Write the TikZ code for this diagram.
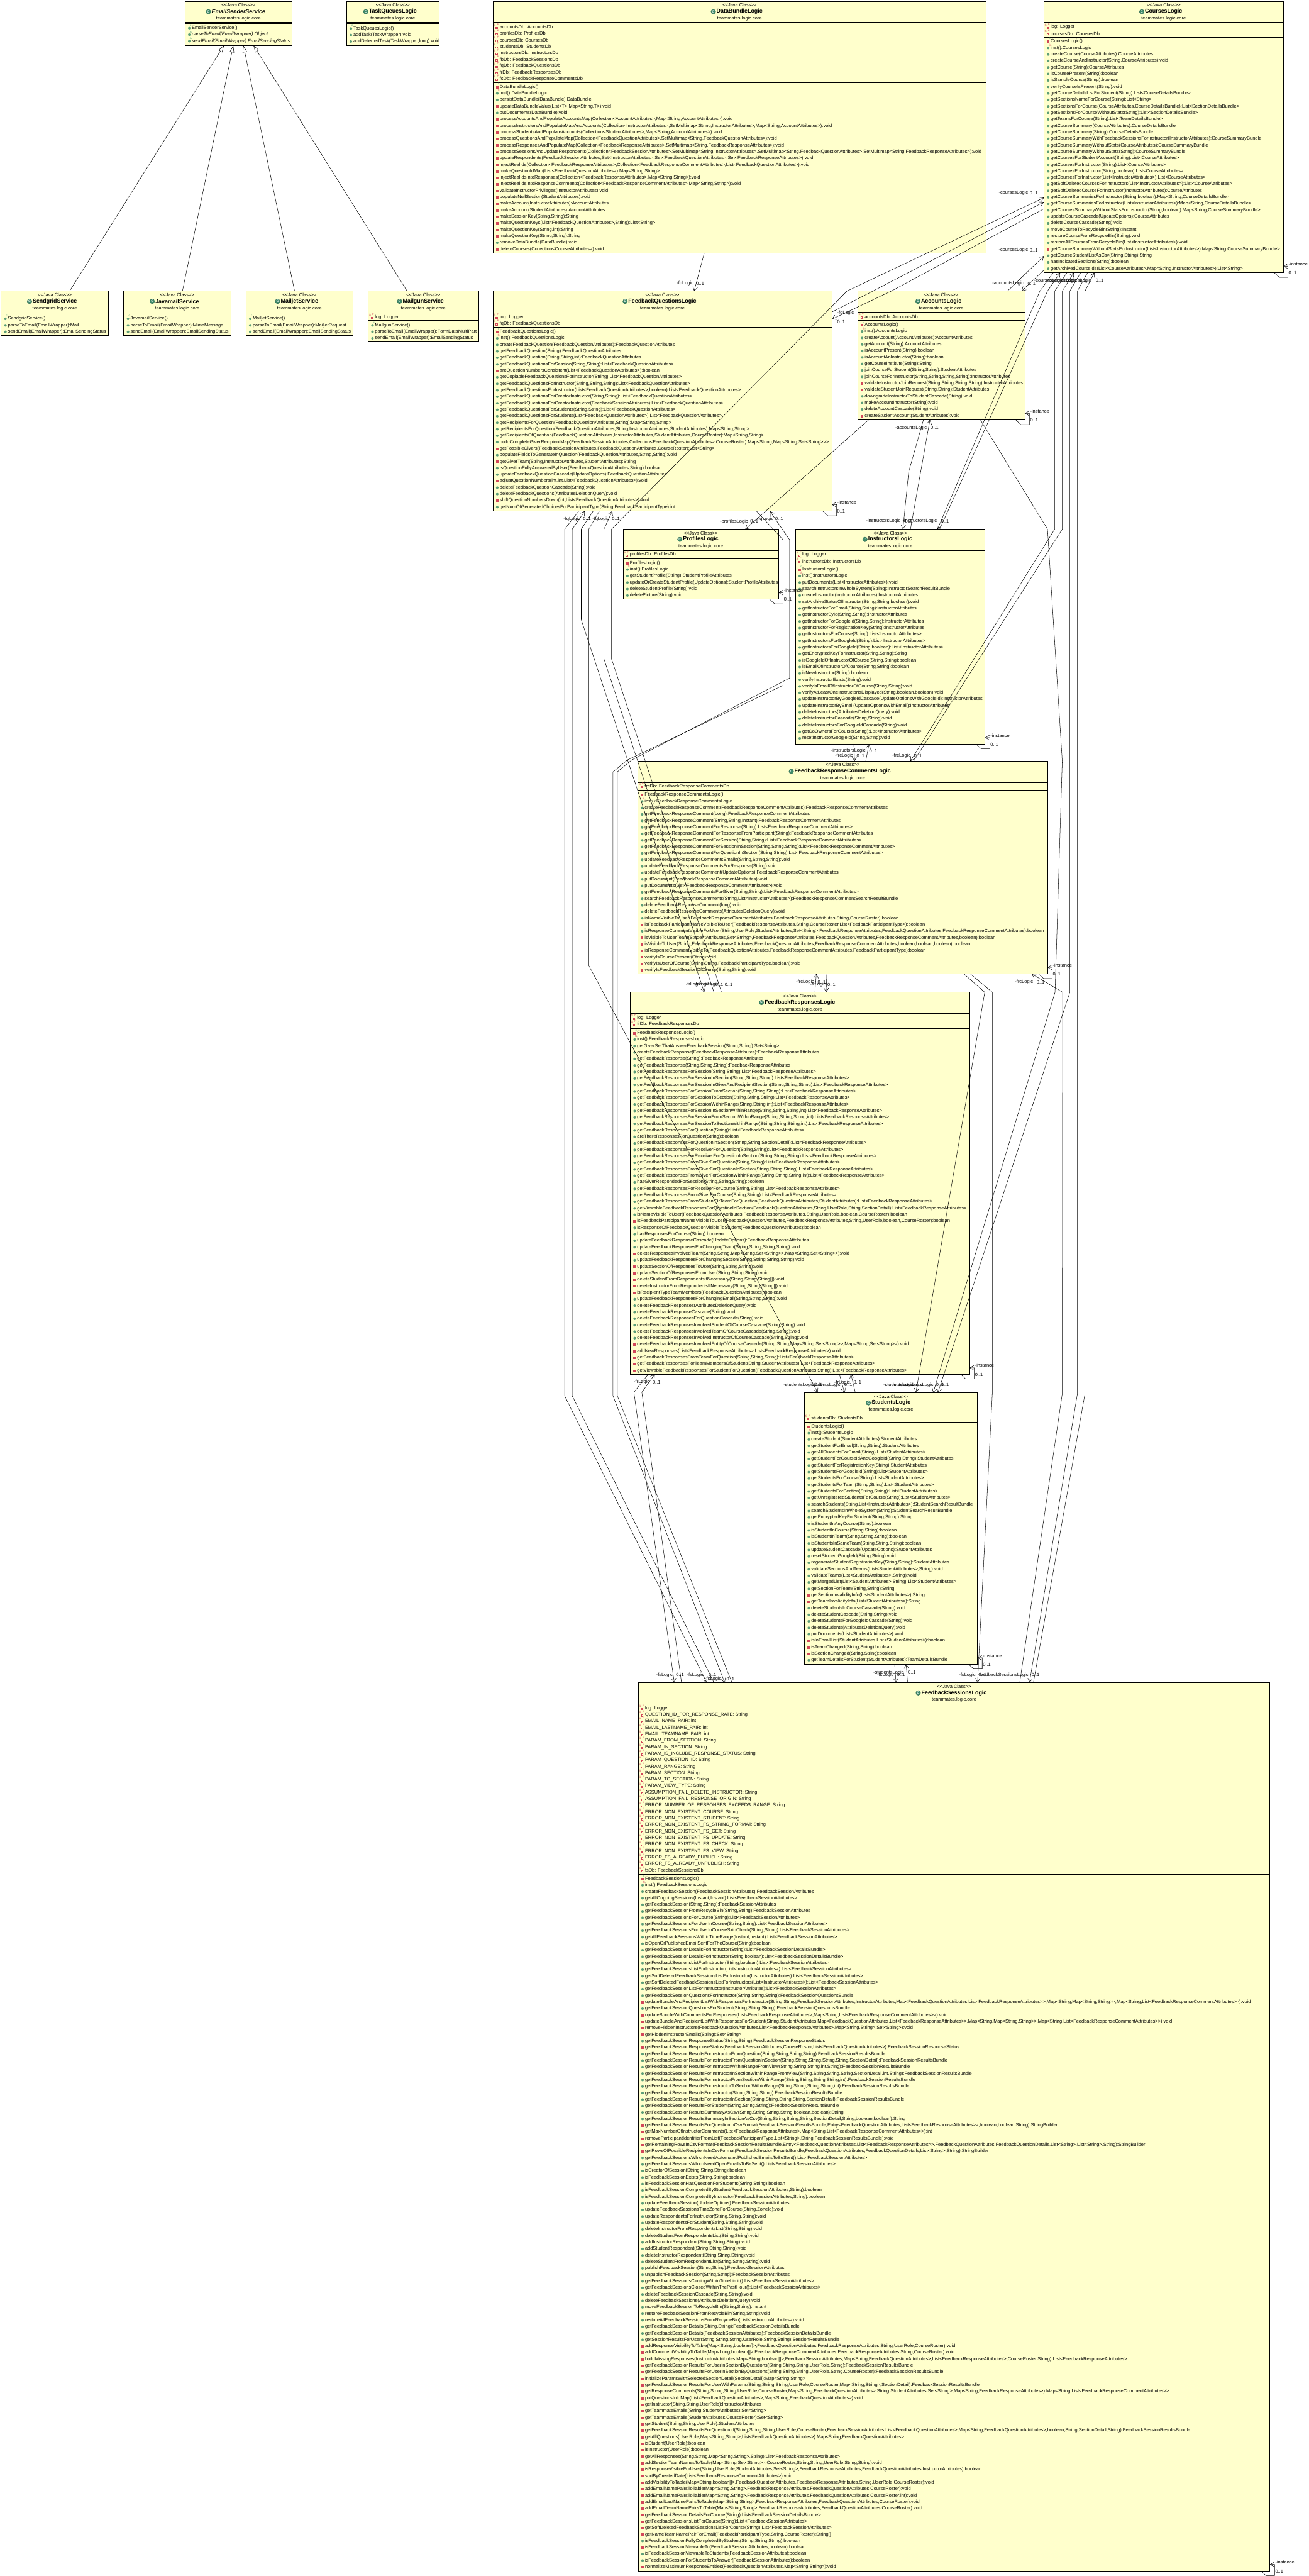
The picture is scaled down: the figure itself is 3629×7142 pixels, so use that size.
\documentclass[tikz,border=0pt]{standalone}
\usepackage{fontspec}
\usetikzlibrary{arrows.meta}
\newfontfamily\umlfont{Liberation Sans}
\definecolor{classfill}{HTML}{FFFFCC}
\definecolor{pubc}{HTML}{5C9E78}
\definecolor{pric}{HTML}{D2475A}
\definecolor{iconc}{HTML}{3E8A6A}
\newcount\umlRowX \newcount\umlRowY \newcount\umlId
\newcommand{\umlfs}{\fontsize{13}{15}\selectfont}
\tikzset{
  x=1pt,y=-1pt,
  classbox/.style={draw=black,fill=classfill,line width=1.5pt,rectangle,inner sep=0pt,outer sep=0pt},
  sepl/.style={draw=black,line width=1.5pt},
  mtx/.style={anchor=west,inner sep=0pt,outer sep=0pt,font=\umlfont\umlfs,text=black},
  mtxi/.style={mtx,font=\umlfont\umlfs\itshape},
  ctr/.style={inner sep=0pt,outer sep=0pt,font=\umlfont\umlfs,text=black},
  ttl/.style={inner sep=0pt,outer sep=0pt,font=\umlfont\fontsize{15.5}{18}\selectfont\bfseries,text=black},
  ttli/.style={inner sep=0pt,outer sep=0pt,font=\umlfont\fontsize{15.5}{18}\selectfont\bfseries\itshape,text=black},
  cicon/.style={circle,fill=iconc,draw=iconc!70!black,line width=.6pt,minimum size=13pt,inner sep=0pt,text=white,font=\umlfont\fontsize{9}{9}\selectfont\bfseries},
  mini/.style={inner sep=0pt,outer sep=0pt,font=\umlfont\fontsize{8}{8}\selectfont},
  assoc/.style={draw=black,line width=.9pt,-{Straight Barb[length=11pt,width=13pt]}},
  plainl/.style={draw=black,line width=.9pt},
  inh/.style={draw=black,line width=.9pt,-{Triangle[open,fill=white,length=19pt,width=12pt]}},
}
% one class box with its title block
\newcommand{\cls}[9]{%
  \pgfmathsetmacro\cw{#4-#2}\pgfmathsetmacro\chh{#5-#3}%
  \pgfmathsetmacro\cx{(#2+#4)/2}\pgfmathsetmacro\cy{(#3+#5)/2}%
  \node[classbox,minimum width=\cw pt,minimum height=\chh pt,name=#1] at (\cx,\cy) {};
  \draw[sepl] (#2,#6) -- (#4,#6);
  \draw[sepl] (#2,#7) -- (#4,#7);
  \node[ctr,name=#1st] at (\cx,#3+10.5) {<<Java Class>>};
  \node[#9,name=#1nm] at (\cx,#3+28.5) {#8};
  \node[cicon,name=#1ic] at ([xshift=-9pt]#1nm.west) {C};
  \node[ctr,name=#1pk] at (\cx,#3+48) {teammates.logic.core};
}
\newcommand{\rows}[2]{\global\umlRowX=#1\relax\global\umlRowY=#2\relax}
\newcommand{\rowtext}[2]{%
  \global\advance\umlId by 1\relax
  \edef\rx{\the\numexpr\umlRowX+19\relax}\edef\ry{\the\umlRowY}%
  \node[#1,name=r\the\umlId] at (\rx,\ry) {#2};
  \global\advance\umlRowY by 18\relax}
\newcommand{\iconpos}{\edef\ix{\the\numexpr\umlRowX+12\relax}\edef\iy{\the\umlRowY}}
\newcommand{\mini}[4]{% dx dy colour letter
  \global\advance\umlId by 1\relax
  \node[mini,text=#3,name=r\the\umlId] at (\ix+#1,\iy+#2) {#4};}
\newcommand{\pub}[1]{\iconpos\fill[pubc] (\ix,\iy) circle[radius=3.6]; \rowtext{mtx}{#1}}
\newcommand{\pri}[1]{\iconpos\fill[pric] (\ix-3.5,\iy-3) rectangle (\ix+3.5,\iy+4); \rowtext{mtx}{#1}}
\newcommand{\ctorp}[1]{\iconpos\fill[pric] (\ix-3.5,\iy-3) rectangle (\ix+3.5,\iy+4); \mini{4}{-8}{pubc}{c} \rowtext{mtx}{#1}}
\newcommand{\ctorg}[1]{\iconpos\fill[pubc] (\ix,\iy) circle[radius=3.6]; \mini{4}{-8}{pubc}{c} \rowtext{mtx}{#1}}
\newcommand{\sta}[1]{\iconpos\fill[pubc] (\ix,\iy) circle[radius=3.6]; \mini{4}{-8}{pric}{S} \rowtext{mtx}{#1}}
\newcommand{\absm}[1]{\iconpos\fill[pubc] (\ix,\iy) circle[radius=3.6]; \mini{4}{-8}{pubc}{A} \rowtext{mtxi}{#1}}
\newcommand{\fld}[1]{\iconpos
  \mini{-7}{-6}{pric}{S}\mini{2}{-8}{pric}{F}%
  \draw[pric,line width=.7pt] (\ix-4,\iy) rectangle (\ix,\iy+4); \rowtext{mtx}{#1}}
\newcommand{\selfloop}[1]{%
  \draw[assoc] ([xshift=-25pt]#1.south east) -- ++(14,13) -- ++(24,0) -- ++(0,-31) -- ([yshift=18pt]#1.south east);
  \node[mtx,name=#1ia] at ([shift={(15pt,24pt)}]#1.south east) {-instance};
  \node[mtx,name=#1ib] at ([shift={(15pt,-1pt)}]#1.south east) {0..1};}
\newcommand{\lab}[3]{\global\advance\umlId by 1\relax\node[mtx,name=r\the\umlId] at (#1,#2) {#3};}
\begin{document}
\begin{tikzpicture}
\fill[white] (0,0) rectangle (3629,7142);
\useasboundingbox (0,0) rectangle (3629,7142);

% ---------- services
\cls{em}{513}{4}{810}{126}{62}{66}{EmailSenderService}{ttli}
\rows{513}{78}
\ctorg{EmailSenderService()}
\absm{parseToEmail(EmailWrapper):Object}
\absm{sendEmail(EmailWrapper):EmailSendingStatus}

\cls{tq}{961}{4}{1218}{127}{62}{66}{TaskQueuesLogic}{ttl}
\rows{961}{79}
\ctorg{TaskQueuesLogic()}
\pub{addTask(TaskWrapper):void}
\pub{addDeferredTask(TaskWrapper,long):void}

\cls{sg}{3}{807}{301}{930}{867}{871}{SendgridService}{ttl}
\rows{3}{884}
\ctorg{SendgridService()}
\pub{parseToEmail(EmailWrapper):Mail}
\pub{sendEmail(EmailWrapper):EmailSendingStatus}

\cls{jm}{343}{807}{640}{930}{867}{871}{JavamailService}{ttl}
\rows{343}{884}
\ctorg{JavamailService()}
\pub{parseToEmail(EmailWrapper):MimeMessage}
\pub{sendEmail(EmailWrapper):EmailSendingStatus}

\cls{mj}{682}{807}{979}{930}{867}{871}{MailjetService}{ttl}
\rows{682}{884}
\ctorg{MailjetService()}
\pub{parseToEmail(EmailWrapper):MailjetRequest}
\pub{sendEmail(EmailWrapper):EmailSendingStatus}

\cls{mg}{1021}{807}{1327}{948}{867}{889}{MailgunService}{ttl}
\rows{1021}{879}
\fld{log: Logger}
\rows{1021}{902}
\ctorg{MailgunService()}
\pub{parseToEmail(EmailWrapper):FormDataMultiPart}
\pub{sendEmail(EmailWrapper):EmailSendingStatus}

% ---------- DataBundleLogic
\cls{data}{1367}{4}{2735}{702}{62}{229}{DataBundleLogic}{ttl}
\rows{1367}{75}
\fld{accountsDb: AccountsDb}
\fld{profilesDb: ProfilesDb}
\fld{coursesDb: CoursesDb}
\fld{studentsDb: StudentsDb}
\fld{instructorsDb: InstructorsDb}
\fld{fbDb: FeedbackSessionsDb}
\fld{fqDb: FeedbackQuestionsDb}
\fld{frDb: FeedbackResponsesDb}
\fld{fcDb: FeedbackResponseCommentsDb}
\rows{1367}{241}
\ctorp{DataBundleLogic()}
\sta{inst():DataBundleLogic}
\pub{persistDataBundle(DataBundle):DataBundle}
\pri{updateDataBundleValue(List<T>,Map<String,T>):void}
\pub{putDocuments(DataBundle):void}
\pri{processAccountsAndPopulateAccountsMap(Collection<AccountAttributes>,Map<String,AccountAttributes>):void}
\pri{processInstructorsAndPopulateMapAndAccounts(Collection<InstructorAttributes>,SetMultimap<String,InstructorAttributes>,Map<String,AccountAttributes>):void}
\pri{processStudentsAndPopulateAccounts(Collection<StudentAttributes>,Map<String,AccountAttributes>):void}
\pri{processQuestionsAndPopulateMap(Collection<FeedbackQuestionAttributes>,SetMultimap<String,FeedbackQuestionAttributes>):void}
\pri{processResponsesAndPopulateMap(Collection<FeedbackResponseAttributes>,SetMultimap<String,FeedbackResponseAttributes>):void}
\pri{processSessionsAndUpdateRespondents(Collection<FeedbackSessionAttributes>,SetMultimap<String,InstructorAttributes>,SetMultimap<String,FeedbackQuestionAttributes>,SetMultimap<String,FeedbackResponseAttributes>):void}
\pri{updateRespondents(FeedbackSessionAttributes,Set<InstructorAttributes>,Set<FeedbackQuestionAttributes>,Set<FeedbackResponseAttributes>):void}
\pri{injectRealIds(Collection<FeedbackResponseAttributes>,Collection<FeedbackResponseCommentAttributes>,List<FeedbackQuestionAttributes>):void}
\pri{makeQuestionIdMap(List<FeedbackQuestionAttributes>):Map<String,String>}
\pri{injectRealIdsIntoResponses(Collection<FeedbackResponseAttributes>,Map<String,String>):void}
\pri{injectRealIdsIntoResponseComments(Collection<FeedbackResponseCommentAttributes>,Map<String,String>):void}
\pri{validateInstructorPrivileges(InstructorAttributes):void}
\pri{populateNullSection(StudentAttributes):void}
\pri{makeAccount(InstructorAttributes):AccountAttributes}
\pri{makeAccount(StudentAttributes):AccountAttributes}
\pri{makeSessionKey(String,String):String}
\pri{makeQuestionKeys(List<FeedbackQuestionAttributes>,String):List<String>}
\pri{makeQuestionKey(String,int):String}
\pri{makeQuestionKey(String,String):String}
\pub{removeDataBundle(DataBundle):void}
\pri{deleteCourses(Collection<CourseAttributes>):void}

% ---------- CoursesLogic
\cls{courses}{2895}{4}{3559}{756}{62}{103}{CoursesLogic}{ttl}
\rows{2895}{75}
\fld{log: Logger}
\fld{coursesDb: CoursesDb}
\rows{2895}{115}
\ctorp{CoursesLogic()}
\sta{inst():CoursesLogic}
\pub{createCourse(CourseAttributes):CourseAttributes}
\pub{createCourseAndInstructor(String,CourseAttributes):void}
\pub{getCourse(String):CourseAttributes}
\pub{isCoursePresent(String):boolean}
\pub{isSampleCourse(String):boolean}
\pub{verifyCourseIsPresent(String):void}
\pub{getCourseDetailsListForStudent(String):List<CourseDetailsBundle>}
\pub{getSectionsNameForCourse(String):List<String>}
\pub{getSectionsForCourse(CourseAttributes,CourseDetailsBundle):List<SectionDetailsBundle>}
\pub{getSectionsForCourseWithoutStats(String):List<SectionDetailsBundle>}
\pub{getTeamsForCourse(String):List<TeamDetailsBundle>}
\pub{getCourseSummary(CourseAttributes):CourseDetailsBundle}
\pub{getCourseSummary(String):CourseDetailsBundle}
\pub{getCourseSummaryWithFeedbackSessionsForInstructor(InstructorAttributes):CourseSummaryBundle}
\pub{getCourseSummaryWithoutStats(CourseAttributes):CourseSummaryBundle}
\pub{getCourseSummaryWithoutStats(String):CourseSummaryBundle}
\pub{getCoursesForStudentAccount(String):List<CourseAttributes>}
\pub{getCoursesForInstructor(String):List<CourseAttributes>}
\pub{getCoursesForInstructor(String,boolean):List<CourseAttributes>}
\pub{getCoursesForInstructor(List<InstructorAttributes>):List<CourseAttributes>}
\pub{getSoftDeletedCoursesForInstructors(List<InstructorAttributes>):List<CourseAttributes>}
\pub{getSoftDeletedCourseForInstructor(InstructorAttributes):CourseAttributes}
\pub{getCourseSummariesForInstructor(String,boolean):Map<String,CourseDetailsBundle>}
\pub{getCourseSummariesForInstructor(List<InstructorAttributes>):Map<String,CourseDetailsBundle>}
\pub{getCoursesSummaryWithoutStatsForInstructor(String,boolean):Map<String,CourseSummaryBundle>}
\pub{updateCourseCascade(UpdateOptions):CourseAttributes}
\pub{deleteCourseCascade(String):void}
\pub{moveCourseToRecycleBin(String):Instant}
\pub{restoreCourseFromRecycleBin(String):void}
\pub{restoreAllCoursesFromRecycleBin(List<InstructorAttributes>):void}
\pri{getCourseSummaryWithoutStatsForInstructor(List<InstructorAttributes>):Map<String,CourseSummaryBundle>}
\pub{getCourseStudentListAsCsv(String,String):String}
\pub{hasIndicatedSections(String):boolean}
\pub{getArchivedCourseIds(List<CourseAttributes>,Map<String,InstructorAttributes>):List<String>}

% ---------- FeedbackQuestionsLogic
\cls{fq}{1367}{807}{2307}{1417}{867}{907}{FeedbackQuestionsLogic}{ttl}
\rows{1367}{879}
\fld{log: Logger}
\fld{fqDb: FeedbackQuestionsDb}
\rows{1367}{920}
\ctorp{FeedbackQuestionsLogic()}
\sta{inst():FeedbackQuestionsLogic}
\pub{createFeedbackQuestion(FeedbackQuestionAttributes):FeedbackQuestionAttributes}
\pub{getFeedbackQuestion(String):FeedbackQuestionAttributes}
\pub{getFeedbackQuestion(String,String,int):FeedbackQuestionAttributes}
\pub{getFeedbackQuestionsForSession(String,String):List<FeedbackQuestionAttributes>}
\pri{areQuestionNumbersConsistent(List<FeedbackQuestionAttributes>):boolean}
\pub{getCopiableFeedbackQuestionsForInstructor(String):List<FeedbackQuestionAttributes>}
\pub{getFeedbackQuestionsForInstructor(String,String,String):List<FeedbackQuestionAttributes>}
\pub{getFeedbackQuestionsForInstructor(List<FeedbackQuestionAttributes>,boolean):List<FeedbackQuestionAttributes>}
\pub{getFeedbackQuestionsForCreatorInstructor(String,String):List<FeedbackQuestionAttributes>}
\pub{getFeedbackQuestionsForCreatorInstructor(FeedbackSessionAttributes):List<FeedbackQuestionAttributes>}
\pub{getFeedbackQuestionsForStudents(String,String):List<FeedbackQuestionAttributes>}
\pub{getFeedbackQuestionsForStudents(List<FeedbackQuestionAttributes>):List<FeedbackQuestionAttributes>}
\pub{getRecipientsForQuestion(FeedbackQuestionAttributes,String):Map<String,String>}
\pub{getRecipientsForQuestion(FeedbackQuestionAttributes,String,InstructorAttributes,StudentAttributes):Map<String,String>}
\pub{getRecipientsOfQuestion(FeedbackQuestionAttributes,InstructorAttributes,StudentAttributes,CourseRoster):Map<String,String>}
\pub{buildCompleteGiverRecipientMap(FeedbackSessionAttributes,Collection<FeedbackQuestionAttributes>,CourseRoster):Map<String,Map<String,Set<String>>>}
\pri{getPossibleGivers(FeedbackSessionAttributes,FeedbackQuestionAttributes,CourseRoster):List<String>}
\pub{populateFieldsToGenerateInQuestion(FeedbackQuestionAttributes,String,String):void}
\pri{getGiverTeam(String,InstructorAttributes,StudentAttributes):String}
\pub{isQuestionFullyAnsweredByUser(FeedbackQuestionAttributes,String):boolean}
\pub{updateFeedbackQuestionCascade(UpdateOptions):FeedbackQuestionAttributes}
\pri{adjustQuestionNumbers(int,int,List<FeedbackQuestionAttributes>):void}
\pub{deleteFeedbackQuestionCascade(String):void}
\pub{deleteFeedbackQuestions(AttributesDeletionQuery):void}
\pri{shiftQuestionNumbersDown(int,List<FeedbackQuestionAttributes>):void}
\pub{getNumOfGeneratedChoicesForParticipantType(String,FeedbackParticipantType):int}

% ---------- AccountsLogic
\cls{accounts}{2379}{807}{2842}{1164}{866}{889}{AccountsLogic}{ttl}
\rows{2379}{878}
\fld{accountsDb: AccountsDb}
\rows{2379}{901}
\ctorp{AccountsLogic()}
\sta{inst():AccountsLogic}
\pub{createAccount(AccountAttributes):AccountAttributes}
\pub{getAccount(String):AccountAttributes}
\pub{isAccountPresent(String):boolean}
\pub{isAccountAnInstructor(String):boolean}
\pub{getCourseInstitute(String):String}
\pub{joinCourseForStudent(String,String):StudentAttributes}
\pub{joinCourseForInstructor(String,String,String,String):InstructorAttributes}
\pri{validateInstructorJoinRequest(String,String,String,String):InstructorAttributes}
\pri{validateStudentJoinRequest(String,String):StudentAttributes}
\pub{downgradeInstructorToStudentCascade(String):void}
\pub{makeAccountInstructor(String):void}
\pub{deleteAccountCascade(String):void}
\pri{createStudentAccount(StudentAttributes):void}

% ---------- ProfilesLogic
\cls{profiles}{1728}{1467}{2159}{1661}{1526}{1549}{ProfilesLogic}{ttl}
\rows{1728}{1538}
\fld{profilesDb: ProfilesDb}
\rows{1728}{1561}
\ctorp{ProfilesLogic()}
\sta{inst():ProfilesLogic}
\pub{getStudentProfile(String):StudentProfileAttributes}
\pub{updateOrCreateStudentProfile(UpdateOptions):StudentProfileAttributes}
\pub{deleteStudentProfile(String):void}
\pub{deletePicture(String):void}

% ---------- InstructorsLogic
\cls{instructors}{2206}{1467}{2732}{2063}{1526}{1567}{InstructorsLogic}{ttl}
\rows{2206}{1538}
\fld{log: Logger}
\fld{instructorsDb: InstructorsDb}
\rows{2206}{1579}
\ctorp{InstructorsLogic()}
\sta{inst():InstructorsLogic}
\pub{putDocuments(List<InstructorAttributes>):void}
\pub{searchInstructorsInWholeSystem(String):InstructorSearchResultBundle}
\pub{createInstructor(InstructorAttributes):InstructorAttributes}
\pub{setArchiveStatusOfInstructor(String,String,boolean):void}
\pub{getInstructorForEmail(String,String):InstructorAttributes}
\pub{getInstructorById(String,String):InstructorAttributes}
\pub{getInstructorForGoogleId(String,String):InstructorAttributes}
\pub{getInstructorForRegistrationKey(String):InstructorAttributes}
\pub{getInstructorsForCourse(String):List<InstructorAttributes>}
\pub{getInstructorsForGoogleId(String):List<InstructorAttributes>}
\pub{getInstructorsForGoogleId(String,boolean):List<InstructorAttributes>}
\pub{getEncryptedKeyForInstructor(String,String):String}
\pub{isGoogleIdOfInstructorOfCourse(String,String):boolean}
\pub{isEmailOfInstructorOfCourse(String,String):boolean}
\pub{isNewInstructor(String):boolean}
\pub{verifyInstructorExists(String):void}
\pub{verifyIsEmailOfInstructorOfCourse(String,String):void}
\pub{verifyAtLeastOneInstructorIsDisplayed(String,boolean,boolean):void}
\pub{updateInstructorByGoogleIdCascade(UpdateOptionsWithGoogleId):InstructorAttributes}
\pub{updateInstructorByEmail(UpdateOptionsWithEmail):InstructorAttributes}
\pub{deleteInstructors(AttributesDeletionQuery):void}
\pub{deleteInstructorCascade(String,String):void}
\pub{deleteInstructorsForGoogleIdCascade(String):void}
\pub{getCoOwnersForCourse(String):List<InstructorAttributes>}
\pub{resetInstructorGoogleId(String,String):void}

% ---------- FeedbackResponseCommentsLogic
\cls{frc}{1769}{2110}{2905}{2700}{2169}{2191}{FeedbackResponseCommentsLogic}{ttl}
\rows{1769}{2180}
\fld{frcDb: FeedbackResponseCommentsDb}
\rows{1769}{2204}
\ctorp{FeedbackResponseCommentsLogic()}
\sta{inst():FeedbackResponseCommentsLogic}
\pub{createFeedbackResponseComment(FeedbackResponseCommentAttributes):FeedbackResponseCommentAttributes}
\pub{getFeedbackResponseComment(Long):FeedbackResponseCommentAttributes}
\pub{getFeedbackResponseComment(String,String,Instant):FeedbackResponseCommentAttributes}
\pub{getFeedbackResponseCommentForResponse(String):List<FeedbackResponseCommentAttributes>}
\pub{getFeedbackResponseCommentForResponseFromParticipant(String):FeedbackResponseCommentAttributes}
\pub{getFeedbackResponseCommentForSession(String,String):List<FeedbackResponseCommentAttributes>}
\pub{getFeedbackResponseCommentForSessionInSection(String,String,String):List<FeedbackResponseCommentAttributes>}
\pub{getFeedbackResponseCommentForQuestionInSection(String,String):List<FeedbackResponseCommentAttributes>}
\pub{updateFeedbackResponseCommentsEmails(String,String,String):void}
\pub{updateFeedbackResponseCommentsForResponse(String):void}
\pub{updateFeedbackResponseComment(UpdateOptions):FeedbackResponseCommentAttributes}
\pub{putDocument(FeedbackResponseCommentAttributes):void}
\pub{putDocuments(List<FeedbackResponseCommentAttributes>):void}
\pub{getFeedbackResponseCommentsForGiver(String,String):List<FeedbackResponseCommentAttributes>}
\pub{searchFeedbackResponseComments(String,List<InstructorAttributes>):FeedbackResponseCommentSearchResultBundle}
\pub{deleteFeedbackResponseComment(long):void}
\pub{deleteFeedbackResponseComments(AttributesDeletionQuery):void}
\pub{isNameVisibleToUser(FeedbackResponseCommentAttributes,FeedbackResponseAttributes,String,CourseRoster):boolean}
\pri{isFeedbackParticipantNameVisibleToUser(FeedbackResponseAttributes,String,CourseRoster,List<FeedbackParticipantType>):boolean}
\pub{isResponseCommentVisibleForUser(String,UserRole,StudentAttributes,Set<String>,FeedbackResponseAttributes,FeedbackQuestionAttributes,FeedbackResponseCommentAttributes):boolean}
\pri{isVisibleToUserTeam(StudentAttributes,Set<String>,FeedbackResponseAttributes,FeedbackQuestionAttributes,FeedbackResponseCommentAttributes,boolean):boolean}
\pri{isVisibleToUser(String,FeedbackResponseAttributes,FeedbackQuestionAttributes,FeedbackResponseCommentAttributes,boolean,boolean,boolean):boolean}
\pri{isResponseCommentVisibleTo(FeedbackQuestionAttributes,FeedbackResponseCommentAttributes,FeedbackParticipantType):boolean}
\pri{verifyIsCoursePresent(String):void}
\pri{verifyIsUserOfCourse(String,String,FeedbackParticipantType,boolean):void}
\pri{verifyIsFeedbackSessionOfCourse(String,String):void}

% ---------- FeedbackResponsesLogic
\cls{fr}{1748}{2751}{2689}{3810}{2810}{2851}{FeedbackResponsesLogic}{ttl}
\rows{1748}{2822}
\fld{log: Logger}
\fld{frDb: FeedbackResponsesDb}
\rows{1748}{2864}
\ctorp{FeedbackResponsesLogic()}
\sta{inst():FeedbackResponsesLogic}
\pub{getGiverSetThatAnswerFeedbackSession(String,String):Set<String>}
\pub{createFeedbackResponse(FeedbackResponseAttributes):FeedbackResponseAttributes}
\pub{getFeedbackResponse(String):FeedbackResponseAttributes}
\pub{getFeedbackResponse(String,String,String):FeedbackResponseAttributes}
\pub{getFeedbackResponsesForSession(String,String):List<FeedbackResponseAttributes>}
\pub{getFeedbackResponsesForSessionInSection(String,String,String):List<FeedbackResponseAttributes>}
\pub{getFeedbackResponsesForSessionInGiverAndRecipientSection(String,String,String):List<FeedbackResponseAttributes>}
\pub{getFeedbackResponsesForSessionFromSection(String,String,String):List<FeedbackResponseAttributes>}
\pub{getFeedbackResponsesForSessionToSection(String,String,String):List<FeedbackResponseAttributes>}
\pub{getFeedbackResponsesForSessionWithinRange(String,String,int):List<FeedbackResponseAttributes>}
\pub{getFeedbackResponsesForSessionInSectionWithinRange(String,String,String,int):List<FeedbackResponseAttributes>}
\pub{getFeedbackResponsesForSessionFromSectionWithinRange(String,String,String,int):List<FeedbackResponseAttributes>}
\pub{getFeedbackResponsesForSessionToSectionWithinRange(String,String,String,int):List<FeedbackResponseAttributes>}
\pub{getFeedbackResponsesForQuestion(String):List<FeedbackResponseAttributes>}
\pub{areThereResponsesForQuestion(String):boolean}
\pub{getFeedbackResponsesForQuestionInSection(String,String,SectionDetail):List<FeedbackResponseAttributes>}
\pub{getFeedbackResponsesForReceiverForQuestion(String,String):List<FeedbackResponseAttributes>}
\pub{getFeedbackResponsesForReceiverForQuestionInSection(String,String,String):List<FeedbackResponseAttributes>}
\pub{getFeedbackResponsesFromGiverForQuestion(String,String):List<FeedbackResponseAttributes>}
\pub{getFeedbackResponsesFromGiverForQuestionInSection(String,String,String):List<FeedbackResponseAttributes>}
\pub{getFeedbackResponsesFromGiverForSessionWithinRange(String,String,String,int):List<FeedbackResponseAttributes>}
\pub{hasGiverRespondedForSession(String,String,String):boolean}
\pub{getFeedbackResponsesForReceiverForCourse(String,String):List<FeedbackResponseAttributes>}
\pub{getFeedbackResponsesFromGiverForCourse(String,String):List<FeedbackResponseAttributes>}
\pub{getFeedbackResponsesFromStudentOrTeamForQuestion(FeedbackQuestionAttributes,StudentAttributes):List<FeedbackResponseAttributes>}
\pub{getViewableFeedbackResponsesForQuestionInSection(FeedbackQuestionAttributes,String,UserRole,String,SectionDetail):List<FeedbackResponseAttributes>}
\pub{isNameVisibleToUser(FeedbackQuestionAttributes,FeedbackResponseAttributes,String,UserRole,boolean,CourseRoster):boolean}
\pri{isFeedbackParticipantNameVisibleToUser(FeedbackQuestionAttributes,FeedbackResponseAttributes,String,UserRole,boolean,CourseRoster):boolean}
\pub{isResponseOfFeedbackQuestionVisibleToStudent(FeedbackQuestionAttributes):boolean}
\pub{hasResponsesForCourse(String):boolean}
\pub{updateFeedbackResponseCascade(UpdateOptions):FeedbackResponseAttributes}
\pub{updateFeedbackResponsesForChangingTeam(String,String,String,String):void}
\pri{deleteResponsesInvolvedTeam(String,String,Map<String,Set<String>>,Map<String,Set<String>>):void}
\pub{updateFeedbackResponsesForChangingSection(String,String,String,String):void}
\pri{updateSectionOfResponsesToUser(String,String,String):void}
\pri{updateSectionOfResponsesFromUser(String,String,String):void}
\pri{deleteStudentFromRespondentsIfNecessary(String,String,String[]):void}
\pri{deleteInstructorFromRespondentsIfNecessary(String,String,String[]):void}
\pri{isRecipientTypeTeamMembers(FeedbackQuestionAttributes):boolean}
\pub{updateFeedbackResponsesForChangingEmail(String,String,String):void}
\pub{deleteFeedbackResponses(AttributesDeletionQuery):void}
\pub{deleteFeedbackResponseCascade(String):void}
\pub{deleteFeedbackResponsesForQuestionCascade(String):void}
\pub{deleteFeedbackResponsesInvolvedStudentOfCourseCascade(String,String):void}
\pub{deleteFeedbackResponsesInvolvedTeamOfCourseCascade(String,String):void}
\pub{deleteFeedbackResponsesInvolvedInstructorOfCourseCascade(String,String):void}
\pri{deleteFeedbackResponsesInvolvedEntityOfCourseCascade(String,String,Map<String,Set<String>>,Map<String,Set<String>>):void}
\pri{addNewResponses(List<FeedbackResponseAttributes>,List<FeedbackResponseAttributes>):void}
\pri{getFeedbackResponsesFromTeamForQuestion(String,String,String):List<FeedbackResponseAttributes>}
\pri{getFeedbackResponsesForTeamMembersOfStudent(String,StudentAttributes):List<FeedbackResponseAttributes>}
\pri{getViewableFeedbackResponsesForStudentForQuestion(FeedbackQuestionAttributes,String):List<FeedbackResponseAttributes>}

% ---------- StudentsLogic
\cls{students}{2231}{3861}{2711}{4614}{3920}{3943}{StudentsLogic}{ttl}
\rows{2231}{3932}
\fld{studentsDb: StudentsDb}
\rows{2231}{3955}
\ctorp{StudentsLogic()}
\sta{inst():StudentsLogic}
\pub{createStudent(StudentAttributes):StudentAttributes}
\pub{getStudentForEmail(String,String):StudentAttributes}
\pub{getAllStudentsForEmail(String):List<StudentAttributes>}
\pub{getStudentForCourseIdAndGoogleId(String,String):StudentAttributes}
\pub{getStudentForRegistrationKey(String):StudentAttributes}
\pub{getStudentsForGoogleId(String):List<StudentAttributes>}
\pub{getStudentsForCourse(String):List<StudentAttributes>}
\pub{getStudentsForTeam(String,String):List<StudentAttributes>}
\pub{getStudentsForSection(String,String):List<StudentAttributes>}
\pub{getUnregisteredStudentsForCourse(String):List<StudentAttributes>}
\pub{searchStudents(String,List<InstructorAttributes>):StudentSearchResultBundle}
\pub{searchStudentsInWholeSystem(String):StudentSearchResultBundle}
\pub{getEncryptedKeyForStudent(String,String):String}
\pub{isStudentInAnyCourse(String):boolean}
\pub{isStudentInCourse(String,String):boolean}
\pub{isStudentInTeam(String,String,String):boolean}
\pub{isStudentsInSameTeam(String,String,String):boolean}
\pub{updateStudentCascade(UpdateOptions):StudentAttributes}
\pub{resetStudentGoogleId(String,String):void}
\pub{regenerateStudentRegistrationKey(String,String):StudentAttributes}
\pub{validateSectionsAndTeams(List<StudentAttributes>,String):void}
\pub{validateTeams(List<StudentAttributes>,String):void}
\pub{getMergedList(List<StudentAttributes>,String):List<StudentAttributes>}
\pub{getSectionForTeam(String,String):String}
\pri{getSectionInvalidityInfo(List<StudentAttributes>):String}
\pri{getTeamInvalidityInfo(List<StudentAttributes>):String}
\pub{deleteStudentsInCourseCascade(String):void}
\pub{deleteStudentCascade(String,String):void}
\pub{deleteStudentsForGoogleIdCascade(String):void}
\pub{deleteStudents(AttributesDeletionQuery):void}
\pub{putDocuments(List<StudentAttributes>):void}
\pri{isInEnrollList(StudentAttributes,List<StudentAttributes>):boolean}
\pri{isTeamChanged(String,String):boolean}
\pri{isSectionChanged(String,String):boolean}
\pub{getTeamDetailsForStudent(StudentAttributes):TeamDetailsBundle}

% ---------- FeedbackSessionsLogic
\cls{fs}{1770}{4665}{3522}{7128}{4724}{5197}{FeedbackSessionsLogic}{ttl}
\rows{1770}{4736}
\fld{log: Logger}
\fld{QUESTION\_ID\_FOR\_RESPONSE\_RATE: String}
\fld{EMAIL\_NAME\_PAIR: int}
\fld{EMAIL\_LASTNAME\_PAIR: int}
\fld{EMAIL\_TEAMNAME\_PAIR: int}
\fld{PARAM\_FROM\_SECTION: String}
\fld{PARAM\_IN\_SECTION: String}
\fld{PARAM\_IS\_INCLUDE\_RESPONSE\_STATUS: String}
\fld{PARAM\_QUESTION\_ID: String}
\fld{PARAM\_RANGE: String}
\fld{PARAM\_SECTION: String}
\fld{PARAM\_TO\_SECTION: String}
\fld{PARAM\_VIEW\_TYPE: String}
\fld{ASSUMPTION\_FAIL\_DELETE\_INSTRUCTOR: String}
\fld{ASSUMPTION\_FAIL\_RESPONSE\_ORIGIN: String}
\fld{ERROR\_NUMBER\_OF\_RESPONSES\_EXCEEDS\_RANGE: String}
\fld{ERROR\_NON\_EXISTENT\_COURSE: String}
\fld{ERROR\_NON\_EXISTENT\_STUDENT: String}
\fld{ERROR\_NON\_EXISTENT\_FS\_STRING\_FORMAT: String}
\fld{ERROR\_NON\_EXISTENT\_FS\_GET: String}
\fld{ERROR\_NON\_EXISTENT\_FS\_UPDATE: String}
\fld{ERROR\_NON\_EXISTENT\_FS\_CHECK: String}
\fld{ERROR\_NON\_EXISTENT\_FS\_VIEW: String}
\fld{ERROR\_FS\_ALREADY\_PUBLISH: String}
\fld{ERROR\_FS\_ALREADY\_UNPUBLISH: String}
\fld{fsDb: FeedbackSessionsDb}
\rows{1770}{5209}
\ctorp{FeedbackSessionsLogic()}
\sta{inst():FeedbackSessionsLogic}
\pub{createFeedbackSession(FeedbackSessionAttributes):FeedbackSessionAttributes}
\pub{getAllOngoingSessions(Instant,Instant):List<FeedbackSessionAttributes>}
\pub{getFeedbackSession(String,String):FeedbackSessionAttributes}
\pub{getFeedbackSessionFromRecycleBin(String,String):FeedbackSessionAttributes}
\pub{getFeedbackSessionsForCourse(String):List<FeedbackSessionAttributes>}
\pub{getFeedbackSessionsForUserInCourse(String,String):List<FeedbackSessionAttributes>}
\pub{getFeedbackSessionsForUserInCourseSkipCheck(String,String):List<FeedbackSessionAttributes>}
\pub{getAllFeedbackSessionsWithinTimeRange(Instant,Instant):List<FeedbackSessionAttributes>}
\pub{isOpenOrPublishedEmailSentForTheCourse(String):boolean}
\pub{getFeedbackSessionDetailsForInstructor(String):List<FeedbackSessionDetailsBundle>}
\pub{getFeedbackSessionDetailsForInstructor(String,boolean):List<FeedbackSessionDetailsBundle>}
\pub{getFeedbackSessionsListForInstructor(String,boolean):List<FeedbackSessionAttributes>}
\pub{getFeedbackSessionsListForInstructor(List<InstructorAttributes>):List<FeedbackSessionAttributes>}
\pub{getSoftDeletedFeedbackSessionsListForInstructor(InstructorAttributes):List<FeedbackSessionAttributes>}
\pub{getSoftDeletedFeedbackSessionsListForInstructors(List<InstructorAttributes>):List<FeedbackSessionAttributes>}
\pub{getFeedbackSessionListForInstructor(InstructorAttributes):List<FeedbackSessionAttributes>}
\pub{getFeedbackSessionQuestionsForInstructor(String,String,String):FeedbackSessionQuestionsBundle}
\pri{updateBundleAndRecipientListWithResponsesForInstructor(String,String,FeedbackSessionAttributes,InstructorAttributes,Map<FeedbackQuestionAttributes,List<FeedbackResponseAttributes>>,Map<String,Map<String,String>>,Map<String,List<FeedbackResponseCommentAttributes>>):void}
\pub{getFeedbackSessionQuestionsForStudent(String,String,String):FeedbackSessionQuestionsBundle}
\pri{updateBundleWithCommentsForResponses(List<FeedbackResponseAttributes>,Map<String,List<FeedbackResponseCommentAttributes>>):void}
\pri{updateBundleAndRecipientListWithResponsesForStudent(String,StudentAttributes,Map<FeedbackQuestionAttributes,List<FeedbackResponseAttributes>>,Map<String,Map<String,String>>,Map<String,List<FeedbackResponseCommentAttributes>>):void}
\pri{removeHiddenInstructors(FeedbackQuestionAttributes,List<FeedbackResponseAttributes>,Map<String,String>,Set<String>):void}
\pri{getHiddenInstructorEmails(String):Set<String>}
\pub{getFeedbackSessionResponseStatus(String,String):FeedbackSessionResponseStatus}
\pri{getFeedbackSessionResponseStatus(FeedbackSessionAttributes,CourseRoster,List<FeedbackQuestionAttributes>):FeedbackSessionResponseStatus}
\pub{getFeedbackSessionResultsForInstructorFromQuestion(String,String,String,String):FeedbackSessionResultsBundle}
\pub{getFeedbackSessionResultsForInstructorFromQuestionInSection(String,String,String,String,String,SectionDetail):FeedbackSessionResultsBundle}
\pub{getFeedbackSessionResultsForInstructorWithinRangeFromView(String,String,String,int,String):FeedbackSessionResultsBundle}
\pub{getFeedbackSessionResultsForInstructorInSectionWithinRangeFromView(String,String,String,String,SectionDetail,int,String):FeedbackSessionResultsBundle}
\pub{getFeedbackSessionResultsForInstructorFromSectionWithinRange(String,String,String,String,int):FeedbackSessionResultsBundle}
\pub{getFeedbackSessionResultsForInstructorToSectionWithinRange(String,String,String,String,int):FeedbackSessionResultsBundle}
\pub{getFeedbackSessionResultsForInstructor(String,String,String):FeedbackSessionResultsBundle}
\pub{getFeedbackSessionResultsForInstructorInSection(String,String,String,String,SectionDetail):FeedbackSessionResultsBundle}
\pub{getFeedbackSessionResultsForStudent(String,String,String):FeedbackSessionResultsBundle}
\pub{getFeedbackSessionResultsSummaryAsCsv(String,String,String,String,boolean,boolean):String}
\pub{getFeedbackSessionResultsSummaryInSectionAsCsv(String,String,String,String,SectionDetail,String,boolean,boolean):String}
\pri{getFeedbackSessionResultsForQuestionInCsvFormat(FeedbackSessionResultsBundle,Entry<FeedbackQuestionAttributes,List<FeedbackResponseAttributes>>,boolean,boolean,String):StringBuilder}
\pri{getMaxNumberOfInstructorComments(List<FeedbackResponseAttributes>,Map<String,List<FeedbackResponseCommentAttributes>>):int}
\pri{removeParticipantIdentifierFromList(FeedbackParticipantType,List<String>,String,FeedbackSessionResultsBundle):void}
\pri{getRemainingRowsInCsvFormat(FeedbackSessionResultsBundle,Entry<FeedbackQuestionAttributes,List<FeedbackResponseAttributes>>,FeedbackQuestionAttributes,FeedbackQuestionDetails,List<String>,List<String>,String):StringBuilder}
\pri{getRowsOfPossibleRecipientsInCsvFormat(FeedbackSessionResultsBundle,FeedbackQuestionAttributes,FeedbackQuestionDetails,List<String>,String):StringBuilder}
\pub{getFeedbackSessionsWhichNeedAutomatedPublishedEmailsToBeSent():List<FeedbackSessionAttributes>}
\pub{getFeedbackSessionsWhichNeedOpenEmailsToBeSent():List<FeedbackSessionAttributes>}
\pub{isCreatorOfSession(String,String,String):boolean}
\pub{isFeedbackSessionExists(String,String):boolean}
\pub{isFeedbackSessionHasQuestionForStudents(String,String):boolean}
\pub{isFeedbackSessionCompletedByStudent(FeedbackSessionAttributes,String):boolean}
\pub{isFeedbackSessionCompletedByInstructor(FeedbackSessionAttributes,String):boolean}
\pub{updateFeedbackSession(UpdateOptions):FeedbackSessionAttributes}
\pub{updateFeedbackSessionsTimeZoneForCourse(String,ZoneId):void}
\pub{updateRespondentsForInstructor(String,String,String):void}
\pub{updateRespondentsForStudent(String,String,String):void}
\pub{deleteInstructorFromRespondentsList(String,String):void}
\pub{deleteStudentFromRespondentsList(String,String):void}
\pub{addInstructorRespondent(String,String,String):void}
\pub{addStudentRespondent(String,String,String):void}
\pub{deleteInstructorRespondent(String,String,String):void}
\pub{deleteStudentFromRespondentList(String,String,String):void}
\pub{publishFeedbackSession(String,String):FeedbackSessionAttributes}
\pub{unpublishFeedbackSession(String,String):FeedbackSessionAttributes}
\pub{getFeedbackSessionsClosingWithinTimeLimit():List<FeedbackSessionAttributes>}
\pub{getFeedbackSessionsClosedWithinThePastHour():List<FeedbackSessionAttributes>}
\pub{deleteFeedbackSessionCascade(String,String):void}
\pub{deleteFeedbackSessions(AttributesDeletionQuery):void}
\pub{moveFeedbackSessionToRecycleBin(String,String):Instant}
\pub{restoreFeedbackSessionFromRecycleBin(String,String):void}
\pub{restoreAllFeedbackSessionsFromRecycleBin(List<InstructorAttributes>):void}
\pub{getFeedbackSessionDetails(String,String):FeedbackSessionDetailsBundle}
\pub{getFeedbackSessionDetails(FeedbackSessionAttributes):FeedbackSessionDetailsBundle}
\pub{getSessionResultsForUser(String,String,String,UserRole,String,String):SessionResultsBundle}
\pri{addResponseVisibilityToTable(Map<String,boolean[]>,FeedbackQuestionAttributes,FeedbackResponseAttributes,String,UserRole,CourseRoster):void}
\pri{addCommentVisibilityToTable(Map<Long,boolean[]>,FeedbackResponseCommentAttributes,FeedbackResponseAttributes,String,CourseRoster):void}
\pri{buildMissingResponses(InstructorAttributes,Map<String,boolean[]>,FeedbackSessionAttributes,Map<String,FeedbackQuestionAttributes>,List<FeedbackResponseAttributes>,CourseRoster,String):List<FeedbackResponseAttributes>}
\pri{getFeedbackSessionResultsForUserInSectionByQuestions(String,String,String,UserRole,String):FeedbackSessionResultsBundle}
\pri{getFeedbackSessionResultsForUserInSectionByQuestions(String,String,String,UserRole,String,CourseRoster):FeedbackSessionResultsBundle}
\pri{initializeParamsWithSelectedSectionDetail(SectionDetail):Map<String,String>}
\pri{getFeedbackSessionResultsForUserWithParams(String,String,String,UserRole,CourseRoster,Map<String,String>,SectionDetail):FeedbackSessionResultsBundle}
\pri{getResponseComments(String,String,String,UserRole,CourseRoster,Map<String,FeedbackQuestionAttributes>,String,StudentAttributes,Set<String>,Map<String,FeedbackResponseAttributes>):Map<String,List<FeedbackResponseCommentAttributes>>}
\pri{putQuestionsIntoMap(List<FeedbackQuestionAttributes>,Map<String,FeedbackQuestionAttributes>):void}
\pri{getInstructor(String,String,UserRole):InstructorAttributes}
\pri{getTeammateEmails(String,StudentAttributes):Set<String>}
\pri{getTeammateEmails(StudentAttributes,CourseRoster):Set<String>}
\pri{getStudent(String,String,UserRole):StudentAttributes}
\pri{getFeedbackSessionResultsForQuestionId(String,String,String,UserRole,CourseRoster,FeedbackSessionAttributes,List<FeedbackQuestionAttributes>,Map<String,FeedbackQuestionAttributes>,boolean,String,SectionDetail,String):FeedbackSessionResultsBundle}
\pri{getAllQuestions(UserRole,Map<String,String>,List<FeedbackQuestionAttributes>):Map<String,FeedbackQuestionAttributes>}
\pri{isStudent(UserRole):boolean}
\pri{isInstructor(UserRole):boolean}
\pri{getAllResponses(String,String,Map<String,String>,String):List<FeedbackResponseAttributes>}
\pri{addSectionTeamNamesToTable(Map<String,Set<String>>,CourseRoster,String,String,UserRole,String,String):void}
\pri{isResponseVisibleForUser(String,UserRole,StudentAttributes,Set<String>,FeedbackResponseAttributes,FeedbackQuestionAttributes,InstructorAttributes):boolean}
\pri{sortByCreatedDate(List<FeedbackResponseCommentAttributes>):void}
\pri{addVisibilityToTable(Map<String,boolean[]>,FeedbackQuestionAttributes,FeedbackResponseAttributes,String,UserRole,CourseRoster):void}
\pri{addEmailNamePairsToTable(Map<String,String>,FeedbackResponseAttributes,FeedbackQuestionAttributes,CourseRoster):void}
\pri{addEmailNamePairsToTable(Map<String,String>,FeedbackResponseAttributes,FeedbackQuestionAttributes,CourseRoster,int):void}
\pri{addEmailLastNamePairsToTable(Map<String,String>,FeedbackResponseAttributes,FeedbackQuestionAttributes,CourseRoster):void}
\pri{addEmailTeamNamePairsToTable(Map<String,String>,FeedbackResponseAttributes,FeedbackQuestionAttributes,CourseRoster):void}
\pri{getFeedbackSessionDetailsForCourse(String):List<FeedbackSessionDetailsBundle>}
\pri{getFeedbackSessionsListForCourse(String):List<FeedbackSessionAttributes>}
\pri{getSoftDeletedFeedbackSessionsListForCourse(String):List<FeedbackSessionAttributes>}
\pri{getNameTeamNamePairForEmail(FeedbackParticipantType,String,CourseRoster):String[]}
\pub{isFeedbackSessionFullyCompletedByStudent(String,String,String):boolean}
\pri{isFeedbackSessionViewableTo(FeedbackSessionAttributes,boolean):boolean}
\pub{isFeedbackSessionViewableToStudents(FeedbackSessionAttributes):boolean}
\pub{isFeedbackSessionForStudentsToAnswer(FeedbackSessionAttributes):boolean}
\pri{normalizeMaximumResponseEntities(FeedbackQuestionAttributes,Map<String,String>):void}

% ---------- inheritance
\draw[inh] (193,0 |- sg.north) -- (621,0 |- em.south);
\draw[inh] (506,0 |- jm.north) -- (647,0 |- em.south);
\draw[inh] (817,0 |- mj.north) -- (675,0 |- em.south);
\draw[inh] (1129,0 |- mg.north) -- (703,0 |- em.south);

% ---------- self associations
\selfloop{courses}\selfloop{fq}\selfloop{accounts}\selfloop{profiles}\selfloop{instructors}\selfloop{frc}\selfloop{fr}\selfloop{students}\selfloop{fs}

% ---------- associations
\draw[assoc] (1953,0 |- data.south) -- (1925,0 |- fq.north);
\lab{1877}{786}{-fqLogic}\lab{1931}{786}{0..1}

% Courses <-> Questions
\draw[assoc] (fq.east |- 0,865) -- (2421,807) -- (courses.west |- 0,560);
\draw[assoc] (courses.west |- 0,579) -- (2472,807) -- (fq.east |- 0,885);
\lab{2322}{867}{-fqLogic}\lab{2322}{892}{0..1}
\lab{2770}{535}{-coursesLogic}\lab{2856}{535}{0..1}

% Courses <-> Accounts
\draw[assoc] (2794,0 |- accounts.north) -- (courses.west |- 0,710);
\draw[assoc] (courses.west |- 0,749) -- (2833,0 |- accounts.north);
\lab{2770}{693}{-coursesLogic}\lab{2856}{693}{0..1}
\lab{2752}{786}{-accountsLogic}\lab{2850}{786}{0..1}

% Courses fan
\draw[assoc] (2921,0 |- courses.south) -- (2884,807) -- (2600,0 |- instructors.north);
\draw[assoc] (2606,0 |- instructors.north) -- (2905,807) -- (2940,0 |- courses.south);
\draw[assoc] (2959,0 |- courses.south) -- (2925,807) -- (2925,1467) -- (2525,0 |- frc.north);
\draw[assoc] (2534,0 |- frc.north) -- (2946,1467) -- (2946,807) -- (2978,0 |- courses.south);
\draw[assoc] (2997,0 |- courses.south) -- (2967,807) -- (2967,2751) -- (2601,0 |- students.north);
\draw[assoc] (3016,0 |- courses.south) -- (2988,807) -- (2988,3864) -- (2855,0 |- fs.north);
\draw[assoc] (2866,0 |- fs.north) -- (3009,3864) -- (3009,807) -- (3035,0 |- courses.south);
\lab{2868}{778}{-coursesLogic}\lab{2957}{778}{0..1}
\lab{2905}{778}{-coursesLogic}\lab{2994}{778}{0..1}
\lab{2945}{778}{-coursesLogic}\lab{3039}{778}{0..1}

% Accounts
\draw[assoc] (2409,0 |- accounts.south) -- (2067,0 |- profiles.north);
\lab{1997}{1446}{-profilesLogic}\lab{2081}{1446}{0..1}
\draw[assoc] (2561,0 |- accounts.south) -- (2520,1308) -- (2504,0 |- instructors.north);
\draw[assoc] (2525,0 |- instructors.north) -- (2579,0 |- accounts.south);
\lab{2483}{1186}{-accountsLogic}\lab{2581}{1186}{0..1}
\lab{2402}{1445}{-instructorsLogic}\lab{2510}{1445}{0..1}
\lab{2503}{1445}{-instructorsLogic}\lab{2610}{1445}{0..1}
\draw[assoc] (2719,0 |- accounts.south) -- (2905,1467) -- (2946,2110) -- (2926,2751) -- (2588,0 |- students.north);

% Instructors <-> FRC
\draw[assoc] (2368,0 |- instructors.south) -- (2370,0 |- frc.north);
\draw[assoc] (2401,0 |- frc.north) -- (2410,0 |- instructors.south);
\lab{2305}{2082}{-instructorsLogic}\lab{2411}{2082}{0..1}
\lab{2316}{2095}{-frcLogic}\lab{2376}{2095}{0..1}
\lab{2475}{2095}{-frcLogic}\lab{2535}{2095}{0..1}

% Questions bottom fan
\draw[assoc] (1605,0 |- fq.south) -- (1566,1467) -- (1566,3870) -- (1960,0 |- fs.north);
\draw[assoc] (1980,0 |- fs.north) -- (1587,3870) -- (1587,1467) -- (1622,0 |- fq.south);
\draw[assoc] (1645,0 |- fq.south) -- (1612,1467) -- (1612,1718) -- (1953,0 |- fr.north);
\draw[assoc] (1662,0 |- fq.south) -- (1633,1467) -- (1633,2677) -- (2268,0 |- students.north);
\draw[assoc] (1980,0 |- fr.north) -- (1675,1827) -- (1675,1467) -- (1698,0 |- fq.south);
\draw[assoc] (2001,0 |- fr.north) -- (1696,1827) -- (1696,1467) -- (2349,807) -- (courses.west |- 0,548);
\lab{1563}{1439}{-fqLogic}\lab{1617}{1439}{0..1}
\lab{1643}{1439}{-fqLogic}\lab{1697}{1439}{0..1}
\draw[assoc] (2098,0 |- fq.south) -- (2172,1497) -- (2172,1900) -- (1740,2107) -- (1700,2140) -- (1700,3870) -- (2010,0 |- fs.north);
\draw[assoc] (2030,0 |- fs.north) -- (1712,3870) -- (1712,2140) -- (1752,2107) -- (2190,1880) -- (2190,1497) -- (2135,0 |- fq.south);
\lab{2099}{1439}{-fqLogic}\lab{2150}{1439}{0..1}
\lab{1902}{2730}{-frLogic}\lab{1925}{2730}{-frLogic}\lab{1950}{2730}{-frLogic}
\lab{1984}{2730}{0..1}\lab{2010}{2730}{0..1}

% FRC <-> Responses
\draw[assoc] (2293,0 |- frc.south) -- (2291,0 |- fr.north);
\draw[assoc] (2260,0 |- fr.north) -- (2264,0 |- frc.south);
\lab{2208}{2723}{-frcLogic}\lab{2268}{2723}{0..1}
\lab{2247}{2730}{-frLogic}\lab{2295}{2730}{0..1}

% FRC <-> Students, Sessions
\draw[assoc] (2673,0 |- frc.south) -- (2731,2751) -- (2540,0 |- students.north);
\draw[assoc] (2691,0 |- frc.south) -- (2752,2751) -- (2752,3864) -- (2711,0 |- fs.north);
\draw[assoc] (2828,0 |- fs.north) -- (2946,3864) -- (2947,2751) -- (2861,0 |- frc.south);
\lab{2815}{2723}{-frcLogic}\lab{2875}{2723}{0..1}

% Responses <-> Students, Sessions
\draw[assoc] (2328,0 |- fr.south) -- (2342,0 |- students.north);
\draw[assoc] (2372,0 |- students.north) -- (2360,0 |- fr.south);
\lab{2314}{3833}{-frLogic}\lab{2367}{3833}{0..1}
\draw[assoc] (1798,0 |- fr.south) -- (1758,3860) -- (1870,0 |- fs.north);
\draw[assoc] (1890,0 |- fs.north) -- (1780,3860) -- (1816,0 |- fr.south);
\lab{1758}{3832}{-frLogic}\lab{1810}{3832}{0..1}
\lab{2173}{3840}{-studentsLogic}\lab{2259}{3840}{0..1}
\lab{2246}{3840}{-studentsLogic}\lab{2342}{3840}{0..1}
\lab{2450}{3840}{-studentsLogic}\lab{2475}{3840}{-studentsLogic}\lab{2504}{3840}{-studentsLogic}
\lab{2596}{3840}{0..1}\lab{2610}{3840}{0..1}

% Students <-> Sessions
\draw[assoc] (2481,0 |- students.south) -- (2485,0 |- fs.north);
\draw[assoc] (2517,0 |- fs.north) -- (2513,0 |- students.south);
\lab{2422}{4637}{-studentsLogic}\lab{2518}{4637}{0..1}
\lab{2433}{4644}{-fsLogic}\lab{2488}{4644}{0..1}
\lab{2660}{4644}{-fsLogic}\lab{2714}{4644}{0..1}
\lab{2711}{4644}{-feedbackSessionsLogic}\lab{2861}{4644}{0..1}
\lab{1820}{4644}{-fsLogic}\lab{1875}{4644}{0..1}
\lab{1905}{4644}{-fsLogic}\lab{1965}{4644}{0..1}
\lab{1955}{4655}{-fsLogic}\lab{2015}{4655}{0..1}
\end{tikzpicture}
\end{document}
